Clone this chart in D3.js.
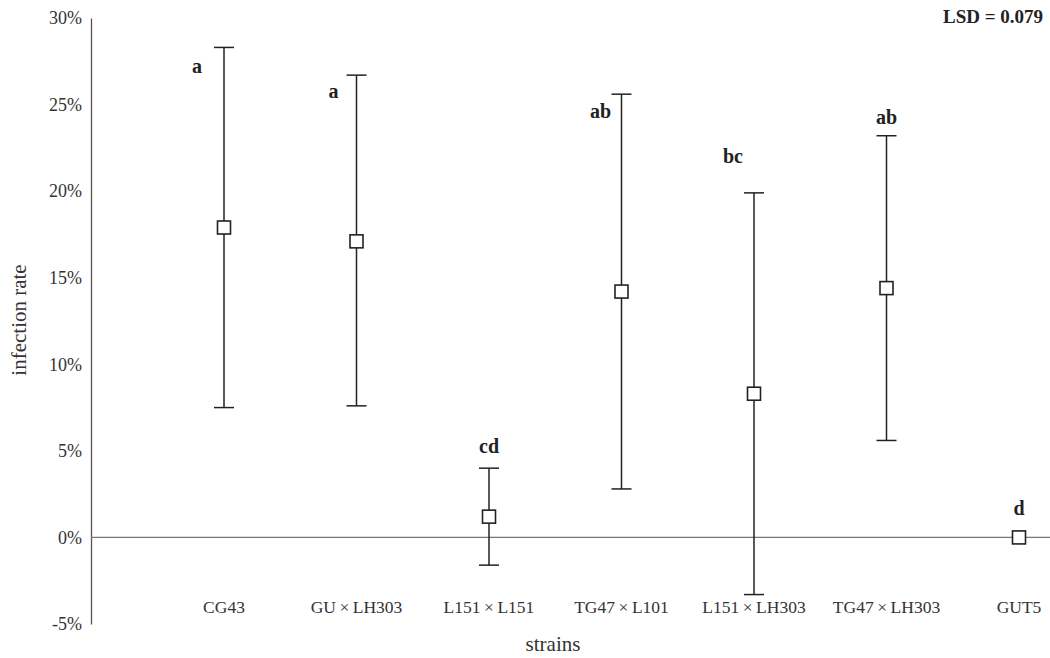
<!DOCTYPE html>
<html><head><meta charset="utf-8">
<script src="https://cdn.jsdelivr.net/npm/d3@7/dist/d3.min.js"></script>
<style>body{margin:0;background:#fff}svg{display:block}text{font-family:"Liberation Serif","DejaVu Serif",serif}</style>
</head><body><svg id="c" width="1050" height="658"></svg>
<script>
const categories = ["CG43","GU×LH303","L151×L151","TG47×L101","L151×LH303","TG47×LH303","GUT5"];
const means = [17.9, 17.1, 1.2, 14.2, 8.3, 14.4, 0];
const upper = [28.3, 26.7, 4.0, 25.6, 19.9, 23.2, null];
const lower = [7.5, 7.6, -1.6, 2.8, -3.3, 5.6, null];
const letters = ["a","a","cd","ab","bc","ab","d"];
const letterLevel = [26.8, 25.4, 4.85, 24.2, 21.6, 23.9, 1.3];
const yTicks = [-5, 0, 5, 10, 15, 20, 25, 30];

const svg = d3.select("#c");
const x = d3.scalePoint().domain(categories).range([224, 1019]);
const y = d3.scaleLinear().domain([-5, 30]).range([624, 18]);
const letterDx = [-27, -23, 0, -21, -21, 0, 0];

// y axis
const ya = svg.append("g").attr("transform","translate(91,0)")
  .call(d3.axisLeft(y).tickValues(yTicks).tickSize(0).tickPadding(9).tickFormat(d => d + "%"));
ya.select(".domain").attr("stroke","#555").attr("stroke-width",1.3);
ya.selectAll("text").attr("font-size",18).attr("fill","#333");

// zero line
svg.append("line").attr("x1",91).attr("x2",1050).attr("y1",y(0)).attr("y2",y(0))
  .attr("stroke","#777").attr("stroke-width",1.3);

// x labels
svg.append("g").selectAll("text").data(categories).join("text")
  .attr("x", d => x(d)).attr("y", 613).attr("text-anchor","middle")
  .attr("font-size",17.5).attr("fill","#333").text(d => d.replace("×", "\u2009×\u2009"));

// error bars
const idx = d3.range(categories.length).filter(i => upper[i] !== null);
const eb = svg.append("g").attr("stroke","#222").attr("stroke-width",1.5);
eb.selectAll(".v").data(idx).join("line")
  .attr("x1", i => x(categories[i])).attr("x2", i => x(categories[i]))
  .attr("y1", i => y(upper[i])).attr("y2", i => y(lower[i]));
eb.selectAll(".t").data(idx).join("line")
  .attr("x1", i => x(categories[i]) - 10).attr("x2", i => x(categories[i]) + 10)
  .attr("y1", i => y(upper[i])).attr("y2", i => y(upper[i]));
eb.selectAll(".b").data(idx).join("line")
  .attr("x1", i => x(categories[i]) - 10).attr("x2", i => x(categories[i]) + 10)
  .attr("y1", i => y(lower[i])).attr("y2", i => y(lower[i]));

// markers
svg.append("g").selectAll("rect").data(means).join("rect")
  .attr("x", (d,i) => x(categories[i]) - 6.5).attr("y", d => y(d) - 6.5)
  .attr("width",13).attr("height",13).attr("fill","#fff")
  .attr("stroke","#222").attr("stroke-width",1.6);

// letters
svg.append("g").selectAll("text").data(letters).join("text")
  .attr("x", (d,i) => x(categories[i]) + letterDx[i]).attr("y", (d,i) => y(letterLevel[i]))
  .attr("text-anchor","middle").attr("font-size",20).attr("font-weight","bold").attr("fill","#222")
  .text(d => d);

// LSD
svg.append("text").attr("x",1043).attr("y",23).attr("text-anchor","end")
  .attr("font-size",19).attr("font-weight","bold").attr("fill","#222").text("LSD = 0.079");

// axis titles
svg.append("text").attr("transform","translate(26,320) rotate(-90)").attr("text-anchor","middle")
  .attr("font-size",21).attr("fill","#333").text("infection rate");
svg.append("text").attr("x",553).attr("y",651).attr("text-anchor","middle")
  .attr("font-size",21).attr("fill","#333").text("strains");
</script></body></html>
